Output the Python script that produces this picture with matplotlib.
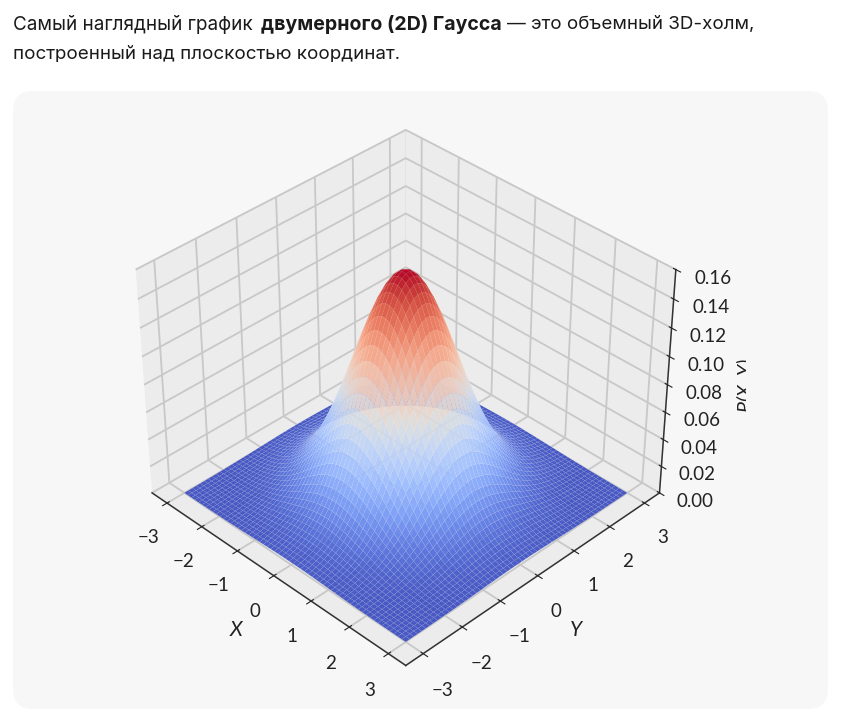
#!/usr/bin/python
import matplotlib
matplotlib.use('Agg')
import matplotlib.pyplot as plt
import numpy as np
from matplotlib.patches import FancyBboxPatch, Rectangle
from matplotlib.transforms import IdentityTransform

# the chart plots this density itself, so the surface comes from its equation
sigma = 1.0
grid_min = -3.0
grid_max = 3.0
grid_steps = 60

xy_ticks = [-3, -2, -1, 0, 1, 2, 3]
z_ticks = [0.00, 0.02, 0.04, 0.06, 0.08, 0.10, 0.12, 0.14, 0.16]

W, H = 844, 727
plt.rcParams['font.family'] = ['Lato', 'DejaVu Sans']

fig = plt.figure(figsize=(W / 100, H / 100), dpi=100, facecolor='white')

def fx(px):
    return px / W

def fy(py):
    return 1 - py / H

# grey rounded panel behind the plot
panel = FancyBboxPatch((13, H - 709), 815, 618, boxstyle='round,pad=0,rounding_size=20',
                       transform=IdentityTransform(), fc='#f7f7f7', ec='none', zorder=-5)
fig.add_artist(panel)

body = ['Inter', 'DejaVu Sans']
fs = 13.5
fig.text(fx(13), fy(25), 'Самый наглядный график', family=body, fontsize=13.6, color='#1a1a1a', va='center')
fig.text(fx(261), fy(25), 'двумерного (2D) Гаусса', family=body, fontsize=14.1, weight='bold', color='#1a1a1a', va='center')
fig.text(fx(507), fy(25), '— это объемный 3D-холм,', family=body, fontsize=fs, color='#1a1a1a', va='center')
fig.text(fx(13), fy(55), 'построенный над плоскостью координат.', family=body, fontsize=fs, color='#1a1a1a', va='center')

ax = fig.add_axes([fx(80), fy(680), (716 - 80) / W, (680 - 105) / H], projection='3d')
ax.patch.set_alpha(0)
ax.set_proj_type('persp', focal_length=0.85)

x = np.linspace(grid_min, grid_max, grid_steps)
y = np.linspace(grid_min, grid_max, grid_steps)
X, Y = np.meshgrid(x, y)
Z = np.exp(-(X**2 + Y**2) / (2 * sigma**2)) / (2 * np.pi * sigma**2)

ax.plot_surface(X, Y, Z, cmap='coolwarm', rstride=1, cstride=1, linewidth=0.03,
                edgecolor='#ffffff', antialiased=True, alpha=0.92)
ax.view_init(elev=36.5, azim=-45)
ax.set_zlim(0, 0.16)
ax.set_xticks(xy_ticks)
ax.set_yticks(xy_ticks)
ax.set_zticks(z_ticks)
ax.set_zticklabels(['%.2f' % t for t in z_ticks])
ax.tick_params(labelsize=13.5, colors='#222222')
ax.tick_params(axis='x', pad=7)
ax.tick_params(axis='y', pad=7)
ax.tick_params(axis='z', pad=7)
ax.set_xlabel('X', style='italic', fontsize=15, color='#222222', labelpad=9.5)
ax.set_ylabel('Y', style='italic', fontsize=15, color='#222222', labelpad=9.5)

for axis in (ax.xaxis, ax.yaxis, ax.zaxis):
    axis.set_pane_color('#ececec')
    axis.pane.set_edgecolor('#e2e2e2')
    axis.line.set_color('#333333')
    axis.line.set_linewidth(1.1)
    axis._axinfo['grid'].update(color='#c8c8c8', linewidth=1.3)

# z label is cut off on the right in the original
zlab = fig.text(fx(745), fy(385), 'P(X, Y)', style='italic', fontsize=14, rotation=90,
                ha='center', va='center', color='#222222')
zlab.set_clip_path(Rectangle((0, 0), 746, H, transform=IdentityTransform()))
zlab.set_clip_on(True)

plt.savefig('out.png', dpi=100, facecolor='white')
